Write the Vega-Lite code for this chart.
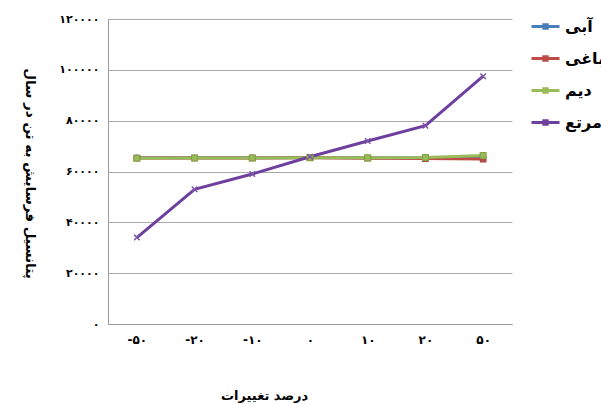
{
  "$schema": "https://vega.github.io/schema/vega-lite/v6.json",
  "width": 404,
  "height": 305,
  "autosize": {"type": "none"},
  "padding": {"left": 108, "top": 19, "right": 89, "bottom": 80},
  "background": "white",
  "config": {
    "font": "DejaVu Sans",
    "view": {"stroke": null},
    "axis": {"labelColor": "#000000", "titleColor": "#000000"}
  },
  "data": {
    "values": [
      {"series": "آبی", "change": -50, "value": 65400},
      {"series": "آبی", "change": -20, "value": 65400},
      {"series": "آبی", "change": -10, "value": 65400},
      {"series": "آبی", "change": 0, "value": 65500},
      {"series": "آبی", "change": 10, "value": 65400},
      {"series": "آبی", "change": 20, "value": 65400},
      {"series": "آبی", "change": 50, "value": 65500},
      {"series": "باغی", "change": -50, "value": 65300},
      {"series": "باغی", "change": -20, "value": 65300},
      {"series": "باغی", "change": -10, "value": 65300},
      {"series": "باغی", "change": 0, "value": 65400},
      {"series": "باغی", "change": 10, "value": 65200},
      {"series": "باغی", "change": 20, "value": 65100},
      {"series": "باغی", "change": 50, "value": 64900},
      {"series": "دیم", "change": -50, "value": 65200},
      {"series": "دیم", "change": -20, "value": 65300},
      {"series": "دیم", "change": -10, "value": 65300},
      {"series": "دیم", "change": 0, "value": 65400},
      {"series": "دیم", "change": 10, "value": 65400},
      {"series": "دیم", "change": 20, "value": 65500},
      {"series": "دیم", "change": 50, "value": 66300},
      {"series": "مرتع", "change": -50, "value": 34000},
      {"series": "مرتع", "change": -20, "value": 53000},
      {"series": "مرتع", "change": -10, "value": 59000},
      {"series": "مرتع", "change": 0, "value": 65800},
      {"series": "مرتع", "change": 10, "value": 72000},
      {"series": "مرتع", "change": 20, "value": 78000},
      {"series": "مرتع", "change": 50, "value": 97500}
    ]
  },
  "encoding": {
    "x": {
      "field": "change",
      "type": "ordinal",
      "scale": {"type": "point", "padding": 0.5},
      "axis": {
        "title": "درصد تغییرات",
        "titleFontSize": 13,
        "titleFontWeight": "bold",
        "titleX": 156,
        "titleY": 71,
        "titleAlign": "center",
        "titleBaseline": "middle",
        "labelAngle": 0,
        "labelFontSize": 12,
        "labelFontWeight": "bold",
        "labelPadding": 10,
        "ticks": false,
        "grid": false,
        "domainColor": "#9a9a9a",
        "labelExpr": "replace(replace(replace(replace(replace(replace(replace(replace(replace(replace(datum.label,regexp('0','g'),'۰'),regexp('1','g'),'۱'),regexp('2','g'),'۲'),regexp('3','g'),'۳'),regexp('4','g'),'۴'),regexp('5','g'),'۵'),regexp('6','g'),'۶'),regexp('7','g'),'۷'),regexp('8','g'),'۸'),regexp('9','g'),'۹')"
      }
    },
    "y": {
      "field": "value",
      "type": "quantitative",
      "scale": {"domain": [0, 120000], "nice": false},
      "axis": {
        "title": "پتانسیل فرسایش به تن در سال",
        "titleAngle": 90,
        "titleX": -79,
        "titleY": 154,
        "titleAlign": "center",
        "titleBaseline": "middle",
        "titleFontSize": 13.5,
        "titleFontWeight": "bold",
        "values": [0, 20000, 40000, 60000, 80000, 100000, 120000],
        "format": "d",
        "labelFontSize": 11,
        "labelFontWeight": "bold",
        "labelPadding": 9,
        "ticks": false,
        "gridColor": "#a8a8a8",
        "domainColor": "#9a9a9a",
        "labelExpr": "replace(replace(replace(replace(replace(replace(replace(replace(replace(replace(datum.label,regexp('0','g'),'۰'),regexp('1','g'),'۱'),regexp('2','g'),'۲'),regexp('3','g'),'۳'),regexp('4','g'),'۴'),regexp('5','g'),'۵'),regexp('6','g'),'۶'),regexp('7','g'),'۷'),regexp('8','g'),'۸'),regexp('9','g'),'۹')"
      }
    }
  },
  "layer": [
    {
      "mark": {"type": "line", "strokeWidth": 3},
      "encoding": {
        "color": {
          "field": "series",
          "type": "nominal",
          "scale": {
            "domain": ["آبی", "باغی", "دیم", "مرتع"],
            "range": ["#4A7EBB", "#BE4B48", "#9ABB59", "#6E3F9E"]
          },
          "legend": {
            "title": null,
            "orient": "none",
            "legendX": 422,
            "legendY": -8,
            "symbolType": "M-1,0L1,0M-0.12,-0.12L0.12,-0.12L0.12,0.12L-0.12,0.12Z",
            "symbolSize": 784,
            "symbolStrokeWidth": 3,
            "labelFontSize": 16,
            "labelFontWeight": "bold",
            "labelColor": "#000000",
            "labelOffset": 4,
            "rowPadding": 8,
            "labelLimit": 200
          }
        }
      }
    },
    {
      "transform": [{"filter": "datum.series === 'آبی'"}],
      "mark": {"type": "point", "shape": "diamond", "size": 30, "filled": true, "fill": "#4A7EBB", "stroke": "#3F6FA8", "strokeWidth": 1.2, "opacity": 1}
    },
    {
      "transform": [{"filter": "datum.series === 'باغی'"}],
      "mark": {"type": "point", "shape": "square", "size": 30, "filled": true, "fill": "#BE4B48", "stroke": "#A84340", "strokeWidth": 1.2, "opacity": 1}
    },
    {
      "transform": [{"filter": "datum.series === 'دیم'"}],
      "mark": {"type": "point", "shape": "square", "size": 34, "filled": true, "fill": "#9ABB59", "stroke": "#86A548", "strokeWidth": 1.2, "opacity": 1}
    },
    {
      "transform": [{"filter": "datum.series === 'مرتع'"}],
      "mark": {"type": "point", "shape": "M-1,-1L1,1M-1,1L1,-1", "size": 30, "filled": false, "stroke": "#7A55A8", "strokeWidth": 1.5, "opacity": 1}
    }
  ]
}
